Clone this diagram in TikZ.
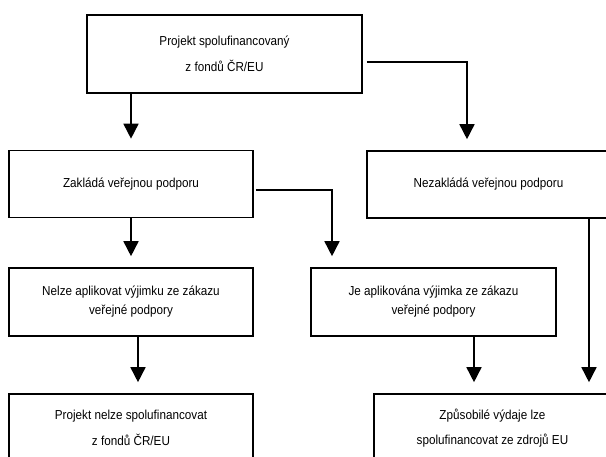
\documentclass[tikz,border=0pt]{standalone}
\usepackage{fontspec}
\setmainfont{Liberation Sans}[FakeStretch=0.9]
\usetikzlibrary{arrows.meta}
\tikzset{
	krok/.style={draw, line width=1.6pt, align=center, minimum width=244pt, minimum height=67pt, font=\fontsize{13}{19}\selectfont},
	krokvolny/.style={krok, font=\fontsize{13}{25.5}\selectfont},
	sipka/.style={line width=1.6pt, -{Triangle[length=15pt, width=15pt]}, shorten >=11pt},
}
\begin{document}
\begin{tikzpicture}[x=1pt, y=-1pt]
			\path[use as bounding box, clip] (0,0) rectangle (606,457);
			\node[krokvolny, minimum width=275pt, minimum height=78pt] (projekt) at (224.5,54) {Projekt spolufinancovaný\\z fondů ČR/EU};
			\node[krok] (zaklada) at (131,184) {Zakládá veřejnou podporu};
			\node[krok, minimum width=243pt] (nezaklada) at (488.5,184.5) {Nezakládá veřejnou podporu};
			\node[krok, minimum height=68pt] (nelze) at (131,302) {Nelze aplikovat výjimku ze zákazu\\veřejné podpory};
			\node[krok, minimum width=245pt, minimum height=68pt] (vyjimka) at (433.5,302) {Je aplikována výjimka ze zákazu\\veřejné podpory};
			\node[krokvolny, minimum height=68pt] (nelzefin) at (131,428) {Projekt nelze spolufinancovat\\z fondů ČR/EU};
			\node[krokvolny, minimum width=237pt, minimum height=68pt] (zpusobile) at (492.5,428) {Způsobilé výdaje lze\\spolufinancovat ze zdrojů EU};
			\draw[sipka] (zaklada.north |- projekt.south) -- (zaklada.north);
			\draw[sipka] ([shift={(4,8)}]projekt.east) -| ([xshift=-21.5pt]nezaklada.north);
			\draw[sipka] (nelze.north |- zaklada.south) -- (nelze.north);
			\draw[sipka] ([shift={(2,6)}]zaklada.east) -| ([xshift=-101.5pt]vyjimka.north);
			\draw[sipka] ([xshift=7pt]nelze.south) -- ([xshift=7pt]nelzefin.north);
			\draw[sipka] ([xshift=40.5pt]vyjimka.south) -- ([xshift=40.5pt]vyjimka.south |- zpusobile.north);
			\draw[sipka] ([xshift=100.5pt]nezaklada.south) -- ([xshift=100.5pt]nezaklada.south |- zpusobile.north);
		\end{tikzpicture}
\end{document}
